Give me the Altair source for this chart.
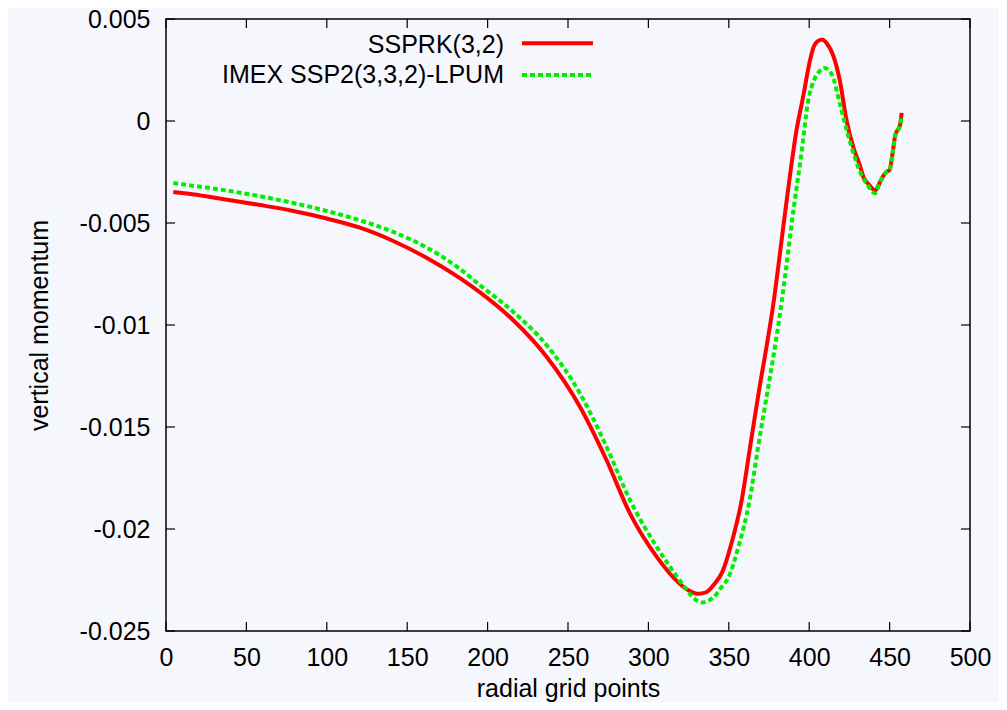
import altair as alt
import pandas as pd

series_names = ["SSPRK(3,2)", "IMEX SSP2(3,3,2)-LPUM"]

red_x = [4.5, 16.4, 37.1, 58.5, 79.2, 99.9, 120.6, 141.3, 162, 182.8, 195.3, 216, 236.8, 257.5,
         274, 288.6, 305.2, 319.4, 326, 331, 336, 341, 346, 352, 358, 363, 368, 378, 385, 388,
         392, 396, 400.6, 402.6, 405, 408, 411, 415, 419, 423.3, 427.5, 431.6, 434, 437, 441,
         444, 446, 448, 450, 452, 453.5, 456.5, 457.5]
red_y = [-0.00348, -0.00359, -0.00385, -0.00412, -0.00441, -0.00478, -0.00523, -0.00588, -0.0067,
         -0.0077, -0.0084, -0.00977, -0.01157, -0.01402, -0.01663, -0.01925, -0.02137, -0.02268,
         -0.02305, -0.02318, -0.0231, -0.0227, -0.0221, -0.0206, -0.0186, -0.0161, -0.0136,
         -0.0088, -0.0045, -0.0027, -0.0005, 0.0011, 0.0030, 0.0036, 0.0039, 0.0040, 0.0038,
         0.0032, 0.0020, 0.0000, -0.0013, -0.0022, -0.0028, -0.0031, -0.0034, -0.0030, -0.0027,
         -0.0025, -0.0024, -0.0015, -0.0007, -0.0002, 0.0004]

green_x = [4.5, 16.4, 37.1, 58.5, 79.2, 99.9, 120.6, 141.3, 162, 182.8, 195.3, 216, 236.8, 257.5,
           274, 288.6, 305.2, 319.4, 326, 333, 340.5, 345, 350, 356, 363, 368, 383, 390.5, 395,
           399.4, 403, 406, 409.5, 414, 419, 423.3, 428, 432, 436, 441, 444, 446, 448, 450, 452,
           453.5, 456.5, 457.5]
green_y = [-0.00304, -0.00317, -0.0034, -0.00369, -0.00402, -0.00441, -0.00487, -0.00544, -0.0062,
           -0.00725, -0.00805, -0.00936, -0.011, -0.01336, -0.01598, -0.01859, -0.02088, -0.02251,
           -0.0232, -0.0236, -0.02335, -0.0229, -0.02234, -0.02087, -0.01858, -0.0161, -0.0088,
           -0.0042, -0.0017, 0.0010, 0.0020, 0.0024, 0.00260, 0.0023, 0.00087, -0.00044, -0.0017,
           -0.00256, -0.0031, -0.00354, -0.0030, -0.0027, -0.0025, -0.0024, -0.0015, -0.0007,
           -0.0002, 0.0002]

x_ticks = [0, 50, 100, 150, 200, 250, 300, 350, 400, 450, 500]
y_ticks = [0.005, 0, -0.005, -0.01, -0.015, -0.02, -0.025]

FONT = "Liberation Sans"
W, H = 804, 612
TICK = 9

red_df = pd.DataFrame({"x": red_x, "y": red_y})
green_df = pd.DataFrame({"x": green_x, "y": green_y})
xt_df = pd.DataFrame({"x": x_ticks})
yt_df = pd.DataFrame({"y": y_ticks})

xscale = alt.Scale(domain=[0, 500], nice=False, zero=False)
yscale = alt.Scale(domain=[-0.025, 0.005], nice=False, zero=False)

xaxis = alt.Axis(values=x_ticks, title="radial grid points", grid=False, domain=False,
                 ticks=False, labelPadding=14, labelFlush=False, labelOverlap=False,
                 titleY=65, titleBaseline="alphabetic", format="d")
yaxis = alt.Axis(values=y_ticks, title="vertical momentum", grid=False, domain=False,
                 ticks=False, labelPadding=16, labelFlush=False, labelOverlap=False,
                 labelExpr="'' + datum.value",
                 titleX=-119, titleY=H / 2, titleAngle=270, titleBaseline="alphabetic")


def X():
    return alt.X("x:Q", scale=xscale, axis=xaxis, title="radial grid points")


def Y():
    return alt.Y("y:Q", scale=yscale, axis=yaxis, title="vertical momentum")


red_line = alt.Chart(red_df).mark_line(color="#ff0000", strokeWidth=4, interpolate="monotone").encode(
    x=X(), y=Y())
green_line = alt.Chart(green_df).mark_line(color="#00ee00", strokeWidth=4, strokeDash=[5, 3],
                                           interpolate="monotone").encode(x=X(), y=Y())

tick_style = dict(color="black", strokeWidth=1.2)
xt_bottom = alt.Chart(xt_df).mark_rule(**tick_style).encode(
    x=X(), y=alt.value(H), y2=alt.value(H - TICK))
xt_top = alt.Chart(xt_df).mark_rule(**tick_style).encode(
    x=X(), y=alt.value(0), y2=alt.value(TICK))
yt_left = alt.Chart(yt_df).mark_rule(**tick_style).encode(
    y=Y(), x=alt.value(0), x2=alt.value(TICK))
yt_right = alt.Chart(yt_df).mark_rule(**tick_style).encode(
    y=Y(), x=alt.value(W - TICK), x2=alt.value(W))

leg_layers = []
leg_rows = [(series_names[0], "#ff0000", None, 34.3, 24.3),
            (series_names[1], "#00ee00", [5, 3], 64.3, 56.0)]
for name, col, dash, ty, ly in leg_rows:
    ldf = pd.DataFrame({"label": [name]})
    leg_layers.append(
        alt.Chart(ldf).mark_text(align="right", baseline="alphabetic", font=FONT, fontSize=25,
                                 color="black").encode(
            text="label:N", x=alt.value(338), y=alt.value(ty)))
    rule_kwargs = dict(color=col, strokeWidth=4)
    if dash is not None:
        rule_kwargs["strokeDash"] = dash
    leg_layers.append(
        alt.Chart(ldf).mark_rule(**rule_kwargs).encode(
            x=alt.value(356), x2=alt.value(427), y=alt.value(ly)))

chart = alt.layer(red_line, green_line, xt_bottom, xt_top, yt_left, yt_right, *leg_layers).properties(
    width=W, height=H,
    autosize=alt.AutoSizeParams(type="none"),
    padding={"left": 158, "top": 11, "right": 29, "bottom": 71},
    background="#f6f7fd",
).configure_view(
    stroke="black", strokeWidth=1.5
).configure_axis(
    labelFont=FONT, labelFontSize=25, labelColor="black",
    titleFont=FONT, titleFontSize=25, titleColor="black", titleFontWeight="normal",
)

chart.save("out.html", embed_options={"renderer": "svg", "actions": False})
